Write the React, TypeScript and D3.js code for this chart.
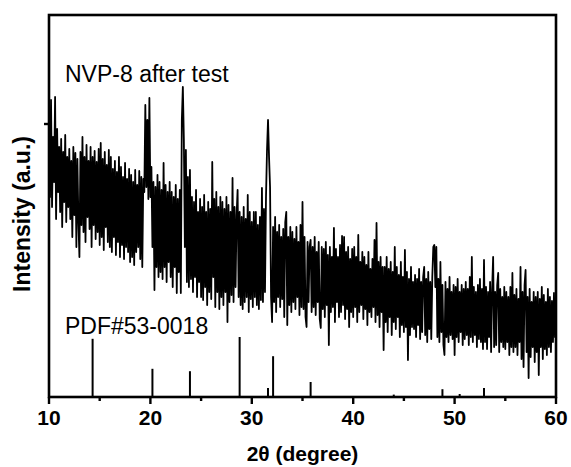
import React from 'react';
import * as d3 from 'd3';

// 2θ sampling of the measured pattern
const X_START = 10;
const X_STEP = 0.1;

// Measured intensity (a.u.), one row per degree (10.0 … 59.9), then 60.0
const intensity: number[] = [
  272, 200, 297, 190, 260, 215, 300, 178, 268, 205,
  250, 185, 258, 170, 245, 195, 262, 175, 240, 190,
  248, 178, 236, 160, 250, 182, 244, 150, 238, 176,
  140, 245, 172, 260, 165, 240, 155, 252, 180, 236,
  168, 250, 150, 240, 172, 246, 158, 235, 165, 248,
  152, 254, 160, 238, 147, 245, 170, 232, 155, 247,
  150, 240, 145, 228, 160, 236, 142, 225, 155, 240,
  140, 230, 152, 220, 138, 234, 150, 218, 145, 228,
  135, 222, 140, 215, 132, 227, 145, 212, 150, 226,
  138, 220, 130, 218, 205, 292, 210, 277, 198, 299,
  200, 230, 150, 215, 107, 210, 130, 222, 120, 215,
  125, 207, 118, 234, 130, 212, 115, 205, 135, 215,
  120, 205, 110, 200, 130, 212, 104, 198, 125, 207,
  104, 277, 310, 257, 150, 247, 115, 220, 110, 227,
  118, 200, 105, 195, 120, 207, 100, 185, 115, 198,
  100, 190, 97, 202, 110, 185, 92, 195, 105, 188,
  98, 235, 120, 198, 90, 205, 105, 190, 88, 200,
  100, 195, 92, 188, 105, 200, 75, 192, 95, 185,
  102, 219, 95, 190, 110, 182, 207, 100, 185, 92,
  180, 88, 190, 95, 178, 100, 202, 85, 185, 98,
  175, 90, 185, 100, 185, 92, 172, 88, 180, 97,
  209, 95, 188, 105, 200, 247, 277, 240, 210, 100,
  75, 170, 95, 180, 85, 165, 100, 172, 90, 160,
  98, 168, 80, 175, 185, 72, 160, 92, 170, 85,
  165, 95, 158, 88, 170, 100, 155, 82, 172, 90,
  195, 88, 160, 80, 70, 155, 95, 150, 157, 85,
  150, 90, 160, 82, 145, 95, 155, 78, 69, 150,
  88, 148, 80, 155, 92, 142, 52, 150, 85, 140,
  90, 169, 75, 148, 95, 140, 80, 152, 85, 161,
  92, 160, 78, 145, 88, 150, 70, 138, 85, 148,
  80, 150, 90, 140, 75, 162, 85, 135, 92, 145,
  78, 140, 88, 132, 72, 145, 85, 128, 80, 138,
  90, 157, 75, 174, 82, 135, 70, 140, 85, 130,
  47, 130, 75, 140, 65, 128, 80, 135, 62, 125,
  75, 150, 68, 130, 80, 122, 60, 135, 72, 120,
  65, 147, 70, 125, 37, 118, 62, 130, 70, 115,
  68, 122, 60, 118, 72, 128, 58, 115, 65, 120,
  130, 62, 118, 55, 125, 68, 115, 58, 120, 150,
  152, 110, 150, 60, 118, 55, 135, 65, 112, 52,
  42, 115, 60, 108, 55, 120, 62, 105, 58, 112,
  42, 110, 60, 118, 55, 105, 65, 112, 52, 108,
  58, 115, 62, 108, 52, 120, 60, 140, 55, 110,
  62, 105, 50, 112, 58, 118, 55, 108, 48, 137,
  55, 110, 48, 105, 60, 115, 45, 108, 140, 50,
  105, 52, 112, 124, 45, 108, 55, 100, 50, 110,
  48, 105, 55, 100, 42, 110, 50, 124, 45, 102,
  50, 108, 42, 98, 55, 130, 38, 105, 30, 112,
  127, 45, 100, 19, 108, 40, 95, 50, 105, 35,
  100, 45, 105, 22, 98, 50, 110, 38, 102, 48,
  95, 42, 108, 50, 100, 45, 96, 55, 104, 60,
  87,
];

// Reference card PDF#53-0018 stick pattern
const refPositions = [14.3, 20.2, 23.9, 28.8, 31.6, 32.1, 35.8, 44.0, 48.8, 50.5, 52.9];
const refIntensities = [97, 47, 43, 100, 15, 68, 25, 4, 13, 5, 15];

const xTicks = [10, 20, 30, 40, 50, 60];
const xMinorTicks = [15, 25, 35, 45, 55];
const yTicks = [273];

const sampleLabel = 'NVP-8 after test';
const refLabel = 'PDF#53-0018';
const xTitle = '2θ (degree)';
const yTitle = 'Intensity (a.u.)';

const FONT = '"Liberation Sans", Arial, Helvetica, sans-serif';

export default function App() {
  const W = 571;
  const H = 467;
  const left = 49, right = 556, top = 15, bottom = 397;

  const x = d3.scaleLinear().domain([10, 60]).range([left, right]);
  const y = d3.scaleLinear().domain([0, 382]).range([bottom, top]);
  const yRef = d3.scaleLinear().domain([0, 100]).range([bottom, bottom - 60]);

  const linePath = d3
    .line<number>()
    .x((_, i) => x(X_START + i * X_STEP))
    .y((d) => y(d))(intensity) || '';

  return (
    <svg
      width={W}
      height={H}
      viewBox={`0 0 ${W} ${H}`}
      style={{ position: 'absolute', left: 0, top: 0, background: '#fff' }}
      fontFamily={FONT}
    >
      <defs>
        <clipPath id="plotClip">
          <rect x={left} y={top} width={right - left} height={bottom - top} />
        </clipPath>
      </defs>
      <rect x={0} y={0} width={W} height={H} fill="#fff" />

      <g clipPath="url(#plotClip)">
        <path d={linePath} fill="none" stroke="#000" strokeWidth={1.8} strokeLinejoin="round" />
        {refPositions.map((p, i) => (
          <line
            key={i}
            x1={x(p)}
            x2={x(p)}
            y1={yRef(0)}
            y2={yRef(refIntensities[i])}
            stroke="#000"
            strokeWidth={2}
          />
        ))}
      </g>

      {/* frame */}
      <rect
        x={left}
        y={top}
        width={right - left}
        height={bottom - top}
        fill="none"
        stroke="#000"
        strokeWidth={2.6}
      />

      {/* x ticks */}
      {xTicks.map((t) => (
        <g key={t}>
          <line x1={x(t)} x2={x(t)} y1={bottom} y2={bottom + 7} stroke="#000" strokeWidth={2.4} />
          <text
            x={x(t)}
            y={bottom + 28}
            textAnchor="middle"
            fontSize={21}
            fontWeight="bold"
          >
            {t}
          </text>
        </g>
      ))}
      {xMinorTicks.map((t) => (
        <line key={t} x1={x(t)} x2={x(t)} y1={bottom} y2={bottom + 4} stroke="#000" strokeWidth={2.4} />
      ))}

      {/* y ticks */}
      {yTicks.map((t) => (
        <line key={t} x1={left - 5} x2={left} y1={y(t)} y2={y(t)} stroke="#000" strokeWidth={2.4} />
      ))}

      {/* axis titles */}
      <text x={(left + right) / 2} y={461} textAnchor="middle" fontSize={21} fontWeight="bold">
        {xTitle}
      </text>
      <text
        transform={`translate(30, ${(top + bottom) / 2 + 8}) rotate(-90)`}
        textAnchor="middle"
        fontSize={23}
        fontWeight="bold"
      >
        {yTitle}
      </text>

      {/* annotations */}
      <text x={65} y={82} fontSize={23}>
        {sampleLabel}
      </text>
      <text x={65} y={334} fontSize={23}>
        {refLabel}
      </text>
    </svg>
  );
}
